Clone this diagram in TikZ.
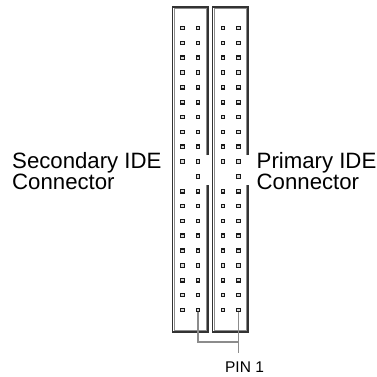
\documentclass[tikz,border=0pt]{standalone}
\usepackage{fontspec}
\setmainfont{Liberation Sans}
\begin{document}
\begin{tikzpicture}[x=1pt, y=-1pt,
		pin/.style={draw=black!90, fill=black!15, line width=1.2pt, minimum size=3.4pt, inner sep=0pt},
		frame/.style={draw=black!80, line width=1.6pt},
		inframe/.style={draw=black!45, line width=0.9pt},
		lead/.style={draw=black!45, line width=1.4pt},
		label/.style={inner sep=0pt, align=left, font=\fontsize{22.2}{21.5}\selectfont}]
		\useasboundingbox (0,0) rectangle (377,376);

		% the two headers, notch on the right side
		\foreach \bx in {172.5, 212.5} {
			\draw[frame] (\bx+35.5, 155) -- (\bx+35.5, 7) -- (\bx, 7) --
			(\bx, 332) -- (\bx+35.5, 332) -- (\bx+35.5, 185);
			\draw[inframe] (\bx+33.9, 155) -- (\bx+33.9, 8.6) -- (\bx+1.6, 8.6) --
			(\bx+1.6, 330.4) -- (\bx+33.9, 330.4) -- (\bx+33.9, 185);
		}

		% pins, key pin missing
		\foreach \k in {0,...,19} {
			\pgfmathsetmacro\py{28+14.84*\k}
			\ifnum\k=10 \else
				\node[pin] (s\k-a) at (182.5, \py) {};
				\node[pin] (p\k-a) at (223, \py) {};
			\fi
			\node[pin] (s\k-b) at (198, \py) {};
			\node[pin] (p\k-b) at (238.5, \py) {};
		}

		\node[label, anchor=base west] (sec) at (12, 189.5) {Secondary IDE\\Connector};
		\node[label, anchor=base west] (pri) at (256.5, 189.5) {Primary IDE\\Connector};

		\node[inner sep=0pt, anchor=base, font=\fontsize{15.5}{15.5}\selectfont] (pinone) at (244.5, 372) {PIN 1};
		\coordinate (pinjoin) at (238.5, 342);
		\coordinate (pinend) at (238.5, 353);
		\draw[lead] (s19-b) |- (pinjoin);
		\draw[lead] (p19-b) -- (pinend);
	\end{tikzpicture}
\end{document}
